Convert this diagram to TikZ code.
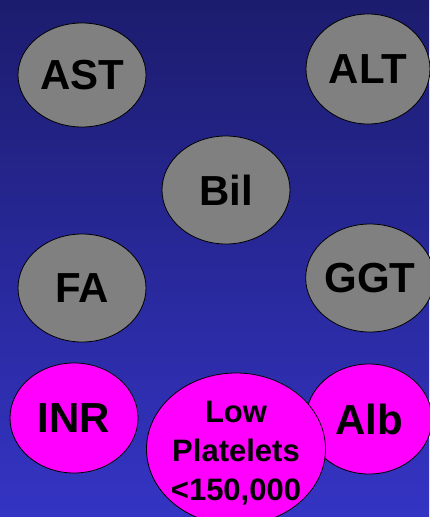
\documentclass[tikz,border=0pt]{standalone}
\usepackage{fontspec}
\setmainfont{Liberation Sans}
\usetikzlibrary{shapes.geometric}
\definecolor{bgtop}{RGB}{28,28,110}
\definecolor{bgbot}{RGB}{52,52,196}
\definecolor{bubgray}{RGB}{128,128,128}
\definecolor{bubpink}{RGB}{255,0,255}
\tikzset{
  bub/.style={ellipse, draw=black, line width=0.8pt, inner sep=0pt,
    font=\fontsize{42}{46}\selectfont\bfseries, text=black},
  graybub/.style={bub, fill=bubgray},
  pinkbub/.style={bub, fill=bubpink},
}
\begin{document}
\begin{tikzpicture}[x=1pt,y=-1pt]
\useasboundingbox (0,0) rectangle (429,517);
\shade[top color=bgtop, bottom color=bgbot] (0,0) rectangle (429,517);
\node[graybub, minimum width=128pt, minimum height=104pt] (ast) at (82,75) {AST};
\node[graybub, minimum width=124pt, minimum height=110pt] (alt) at (368,69) {ALT};
\node[graybub, minimum width=128pt, minimum height=108pt] (bil) at (226,190) {Bil};
\node[graybub, minimum width=128pt, minimum height=108pt] (fa) at (82,288) {FA};
\node[graybub, minimum width=126pt, minimum height=108pt] (ggt) at (370,278) {GGT};
\node[pinkbub, minimum width=128pt, minimum height=110pt] (inr) at (74,418) {INR};
\node[pinkbub, minimum width=126pt, minimum height=110pt] (alb) at (369,419) {Alb};
\node[pinkbub, minimum width=179pt, minimum height=152pt,
  font=\fontsize{31}{39}\selectfont\bfseries] (plt) at (236,449)
  {\makebox[0pt]{\smash{\raisebox{-11pt}{\begin{tabular}{@{}c@{}}Low\\Platelets\\{<}150,000\end{tabular}}}}};
\end{tikzpicture}
\end{document}
